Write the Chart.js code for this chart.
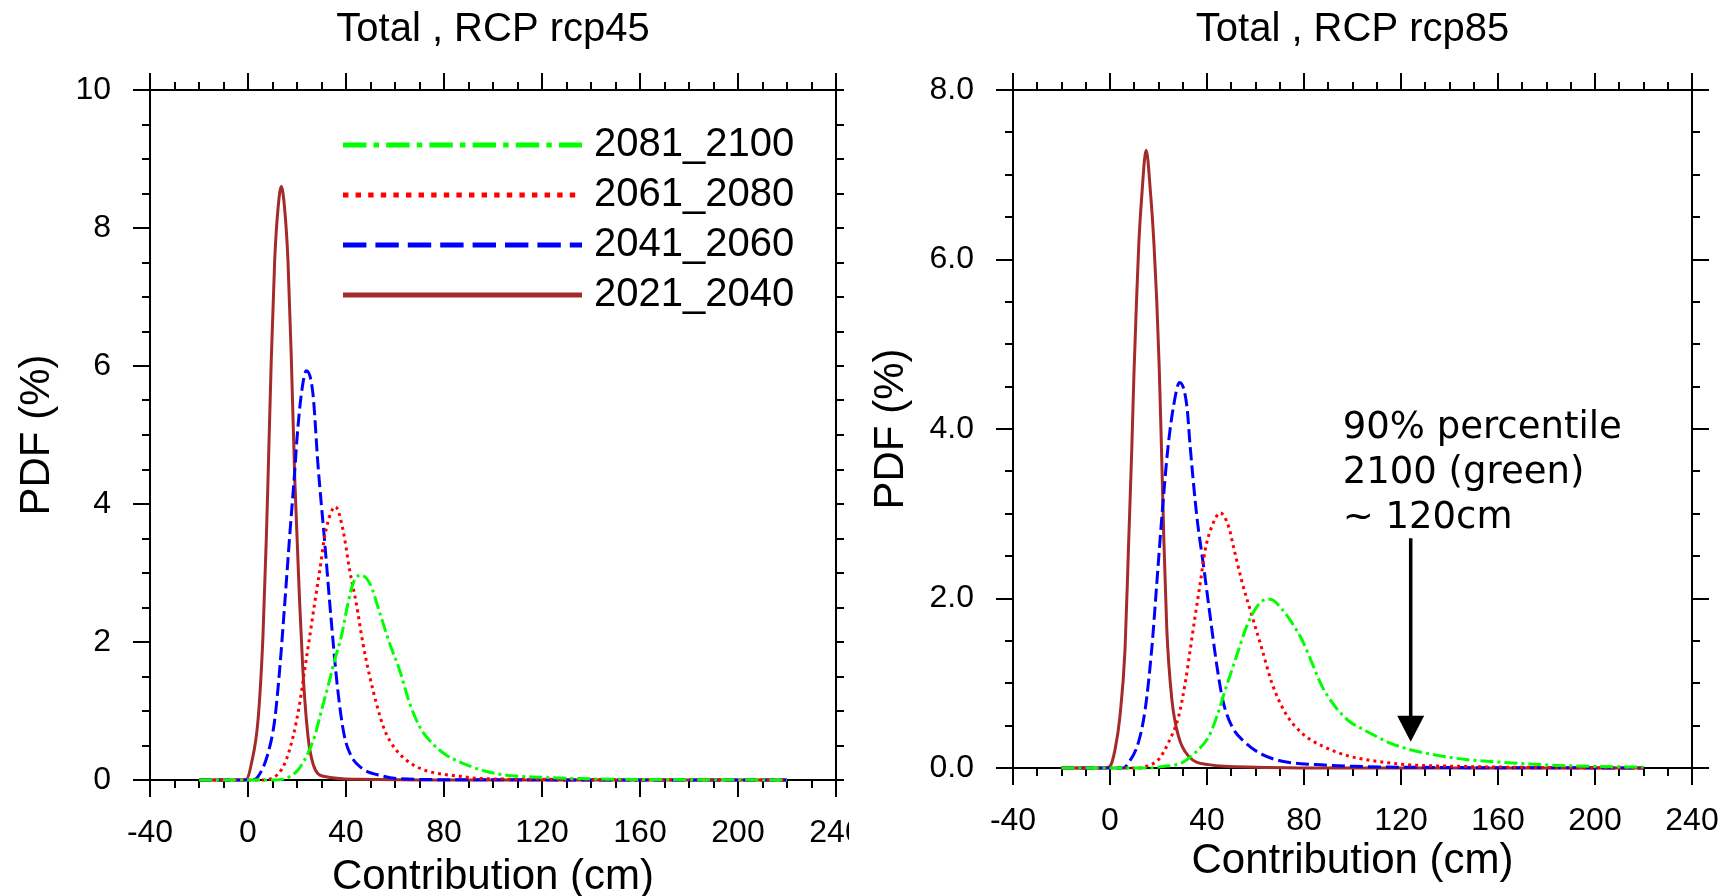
<!DOCTYPE html>
<html>
<head>
<meta charset="utf-8">
<title>Total contribution PDFs, rcp45 / rcp85</title>
<script src="https://cdn.jsdelivr.net/npm/chart.js@4.4.1/dist/chart.umd.min.js"></script>
<style>
  html, body { margin: 0; padding: 0; background: #fff; }
  body { width: 1725px; height: 896px; position: relative; overflow: hidden; }
  #wrapL { position: absolute; left: 0; top: 0; width: 849px; height: 896px; overflow: hidden; }
  #wrapR { position: absolute; left: 862px; top: 0; width: 863px; height: 896px; }
  canvas { display: block; }
</style>
</head>
<body>
<div id="wrapL"><canvas id="c45" width="862" height="896"></canvas></div>
<div id="wrapR"><canvas id="c85" width="863" height="896"></canvas></div>
<script>
/* PDF of total contribution (cm) for four 20-year periods, RCP4.5 and RCP8.5.
   Values, [contribution cm, PDF %]. */

const FONT = "'Liberation Sans', Arial, Helvetica, sans-serif";

const seriesLabels = ["2081_2100", "2061_2080", "2041_2060", "2021_2040"];
const seriesColors = ["#00ff00", "#ff0000", "#0000ff", "#a52a2a"];
const seriesDash = [[13, 4, 3, 4], [3, 4], [13, 5], []];

const xMajor = [-40, 0, 40, 80, 120, 160, 200, 240];
const y45Major = [0, 2, 4, 6, 8, 10];
const y45Labels = ["0", "2", "4", "6", "8", "10"];
const y85Major = [0, 2, 4, 6, 8];
const y85Labels = ["0.0", "2.0", "4.0", "6.0", "8.0"];

// ---- RCP 4.5 ----
const rcp45_2021_2040 = [[-20, 0], [-3, 0], [-0.6, 0.01], [1.4, 0.24], [4.1, 0.87], [6.1, 2.08], [7.5, 3.53],
  [8.2, 4.4], [9.5, 6.09], [10.9, 7.54], [12.2, 8.26], [13.6, 8.6], [15.0, 8.26], [16.3, 7.54], [17.7, 6.09],
  [19.1, 4.35], [21.1, 2.56], [22.4, 1.59], [24.5, 0.63], [26.5, 0.24], [31.3, 0.05], [45, 0.01], [80, 0], [220, 0]];
const rcp45_2041_2060 = [[-20, 0], [1.4, 0], [4.1, 0.05], [8.2, 0.39], [10.9, 0.87], [12.9, 1.59], [15.0, 2.56],
  [17.0, 3.53], [19.1, 4.49], [20.0, 4.95], [21.8, 5.6], [23.8, 5.93], [26.5, 5.6], [28.6, 4.55], [31.3, 3.45],
  [34.0, 2.3], [36.5, 1.35], [39.1, 0.68], [41.8, 0.37], [46.5, 0.17], [54.8, 0.06], [61, 0.02], [80, 0.005], [220, 0]];
const rcp45_2061_2080 = [[-20, 0], [5, 0], [9.5, 0.02], [15.0, 0.24], [18.4, 0.63], [21.1, 1.11], [23.1, 1.59],
  [25.2, 2.08], [27.2, 2.56], [29.3, 3.04], [31.3, 3.53], [33.8, 3.87], [35.7, 3.96], [38.8, 3.62], [41.5, 3.04],
  [44.2, 2.56], [46.9, 1.98], [49.7, 1.5], [52.4, 1.11], [55.8, 0.72], [60.6, 0.43], [67.4, 0.22], [74.2, 0.12],
  [85, 0.06], [96, 0.02], [120, 0.01], [220, 0]];
const rcp45_2081_2100 = [[-20, 0], [10, 0], [15, 0.02], [20.4, 0.145], [24.5, 0.39], [27.2, 0.63], [30.0, 1.01],
  [32.6, 1.35], [35.4, 1.74], [38.1, 2.08], [40.8, 2.56], [42.9, 2.85], [45.8, 2.97], [49.7, 2.85], [53.8, 2.42],
  [57.8, 1.98], [61.9, 1.59], [66.0, 1.11], [70.1, 0.77], [75.0, 0.54], [81, 0.36], [87.8, 0.24], [96.7, 0.13],
  [105.5, 0.07], [119, 0.04], [135, 0.02], [155, 0.01], [220, 0]];

// ---- RCP 8.5 ----
const rcp85_2021_2040 = [[-20, 0], [-2, 0], [0, 0.02], [2.1, 0.22], [4.1, 0.61], [6.2, 1.4], [7.6, 2.58], [9.0, 3.78],
  [9.9, 4.67], [10.9, 5.48], [11.9, 6.2], [13.1, 6.75], [14.9, 7.29], [16.8, 6.75], [18.1, 6.2], [19.3, 5.5],
  [20.3, 4.72], [21.2, 3.8], [22.2, 2.7], [23.4, 1.65], [25.5, 0.81], [28.3, 0.37], [32.4, 0.14], [40.7, 0.04],
  [60, 0.01], [100, 0], [220, 0]];
const rcp85_2041_2060 = [[-20, 0], [5.4, 0], [7.6, 0.06], [11.7, 0.3], [14.5, 0.69], [17.2, 1.4], [19.3, 2.18],
  [21.4, 2.97], [23.9, 3.78], [26.2, 4.27], [28.7, 4.55], [31.7, 4.27], [33.1, 3.78], [35.8, 2.97], [38.6, 2.38],
  [41.3, 1.79], [44.1, 1.2], [46.6, 0.79], [50.3, 0.49], [55.8, 0.3], [62.7, 0.16], [71, 0.08], [84.7, 0.04],
  [101, 0.02], [120, 0.01], [220, 0]];
const rcp85_2061_2080 = [[-20, 0], [12, 0], [15.9, 0.03], [20.0, 0.1], [24.1, 0.3], [28.3, 0.61], [31.0, 1.0],
  [33.1, 1.4], [35.1, 1.79], [37.2, 2.18], [39.3, 2.58], [42.0, 2.85], [45.5, 3.01], [48.9, 2.85], [51.0, 2.6],
  [54.4, 2.2], [58.6, 1.79], [62.7, 1.4], [66.8, 1.0], [72.3, 0.65], [79.2, 0.41], [87.5, 0.26], [98.5, 0.14],
  [110, 0.08], [122, 0.04], [143, 0.02], [163, 0.01], [220, 0]];
const rcp85_2081_2100 = [[-20, 0], [15, 0], [22.7, 0.02], [29.6, 0.06], [35.1, 0.18], [40.7, 0.37], [44.1, 0.61],
  [47.5, 0.92], [50.3, 1.16], [53.1, 1.4], [55.8, 1.63], [59.0, 1.83], [62.7, 1.97], [66.1, 1.99], [71.0, 1.87],
  [75.1, 1.71], [79.2, 1.51], [83.3, 1.24], [87.5, 0.96], [93.0, 0.72], [98.5, 0.555], [105.4, 0.44], [110, 0.37],
  [115, 0.3], [123.3, 0.22], [132.9, 0.16], [146.7, 0.1], [160.5, 0.07], [177, 0.04], [197.7, 0.02], [220, 0.01]];

// annotation on the rcp85 panel
const noteLines = ["90% percentile", "2100 (green)", "~ 120cm"];
const arrowX = 124;
const arrowFrom = 2.71;
const arrowTo = 0.31;

/* ---------- plugins ---------- */

// legend drawn inside the plot, long line samples like the original
const lineLegend = {
  id: "lineLegend",
  afterDatasetsDraw(chart, args, o) {
    if (!o.show) return;
    const ctx = chart.ctx;
    ctx.save();
    chart.data.datasets.forEach((ds, i) => {
      const y = o.top + i * o.gap;
      ctx.strokeStyle = ds.borderColor;
      ctx.lineWidth = o.lineWidth;
      ctx.setLineDash((ds.borderDash || []).map(d => d * o.dashScale));
      ctx.beginPath();
      ctx.moveTo(o.x0, y);
      ctx.lineTo(o.x1, y);
      ctx.stroke();
      ctx.setLineDash([]);
      ctx.fillStyle = "#000";
      ctx.font = o.font;
      ctx.textAlign = "left";
      ctx.textBaseline = "middle";
      ctx.fillText(ds.label, o.x1 + 12, y);
    });
    ctx.restore();
  }
};

const notePlugin = {
  id: "note",
  afterDatasetsDraw(chart) {
    const ax = chart.scales.x.getPixelForValue(arrowX);
    const yTop = chart.scales.y.getPixelForValue(arrowFrom);
    const yTip = chart.scales.y.getPixelForValue(arrowTo);
    const ctx = chart.ctx;
    ctx.save();
    ctx.fillStyle = "#000";
    ctx.strokeStyle = "#000";
    ctx.font = "37px 'DejaVu Sans', Verdana, sans-serif";
    ctx.textAlign = "left";
    ctx.textBaseline = "alphabetic";
    noteLines.forEach((t, i) => ctx.fillText(t, ax - 68, yTop - 100 + i * 45));
    ctx.lineWidth = 3.5;
    ctx.beginPath();
    ctx.moveTo(ax, yTop);
    ctx.lineTo(ax, yTip - 24);
    ctx.stroke();
    ctx.beginPath();
    ctx.moveTo(ax - 13.5, yTip - 26);
    ctx.lineTo(ax + 13.5, yTip - 26);
    ctx.lineTo(ax, yTip);
    ctx.closePath();
    ctx.fill();
    ctx.restore();
  }
};

/* ---------- axes: major + minor pairs on all four sides ---------- */

function axis(o) {
  const horiz = o.pos === "top" || o.pos === "bottom";
  const a = {
    type: "linear",
    position: o.pos,
    min: o.min,
    max: o.max,
    weight: o.weight,
    grid: { display: true, drawOnChartArea: false, drawTicks: true, tickLength: o.len, color: "#000", lineWidth: 2 },
    border: { display: true, color: "#000", width: 2 },
    ticks: Object.assign({ display: false, autoSkip: false, stepSize: o.step }, o.ticks || {}),
    afterFit: (s) => {
      if (horiz) s.height = o.size; else s.width = o.size;
      s.paddingLeft = s.paddingRight = s.paddingTop = s.paddingBottom = 0;
    }
  };
  if (o.values) a.afterBuildTicks = (s) => { s.ticks = o.values.map(v => ({ value: v })); };
  if (o.title) a.title = o.title;
  return a;
}

function makeScales(c) {
  const xMin = xMajor[0], xMax = xMajor[xMajor.length - 1];
  const yMin = c.yMajor[0], yMax = c.yMajor[c.yMajor.length - 1];
  const tickFont = { family: FONT, size: 32 };
  const titleFont = { family: FONT, size: 42, lineHeight: 1.1 };
  return {
    x: axis({
      pos: "bottom", min: xMin, max: xMax, values: xMajor, len: 17, size: c.bottomH, weight: 1,
      ticks: { display: true, font: tickFont, color: "#000", padding: 16.8, maxRotation: 0, callback: (v) => String(v) },
      title: { display: true, text: "Contribution (cm)", font: titleFont, color: "#000", padding: { top: 0, bottom: c.xTitlePad } }
    }),
    xMinor: axis({ pos: "bottom", min: xMin, max: xMax, step: 10, len: 8, size: 0, weight: 0 }),
    xTop: axis({ pos: "top", min: xMin, max: xMax, values: xMajor, len: 17, size: c.topH, weight: 1 }),
    xTopMinor: axis({ pos: "top", min: xMin, max: xMax, step: 10, len: 8, size: 0, weight: 0 }),
    y: axis({
      pos: "left", min: yMin, max: yMax, values: c.yMajor, len: 17, size: c.leftW, weight: 1,
      ticks: { display: true, font: tickFont, color: "#000", padding: 22, callback: (v, i) => c.yLabels[i] },
      title: { display: true, text: "PDF (%)", font: titleFont, color: "#000", padding: { top: c.yTitlePad, bottom: 0 } }
    }),
    yMinor: axis({ pos: "left", min: yMin, max: yMax, step: 0.5, len: 8, size: 0, weight: 0 }),
    yRight: axis({ pos: "right", min: yMin, max: yMax, values: c.yMajor, len: c.rightMajorLen, size: c.rightW, weight: 1 }),
    yRightMinor: axis({ pos: "right", min: yMin, max: yMax, step: 0.5, len: 8, size: 0, weight: 0 })
  };
}

function makeChart(id, c) {
  const datasets = c.series.map((data, i) => ({
    label: seriesLabels[i],
    data,
    borderColor: seriesColors[i],
    backgroundColor: seriesColors[i],
    borderDash: seriesDash[i],
    borderWidth: 3,
    borderCapStyle: "butt",
    borderJoinStyle: "round",
    pointRadius: 0,
    fill: false,
    cubicInterpolationMode: "monotone",
    clip: 10,
    xAxisID: "x",
    yAxisID: "y"
  }));
  return new Chart(document.getElementById(id), {
    type: "line",
    data: { datasets },
    plugins: c.plugins,
    options: {
      responsive: false,
      animation: false,
      events: [],
      layout: { padding: 0 },
      scales: makeScales(c),
      plugins: {
        legend: { display: false },
        tooltip: { enabled: false },
        title: {
          display: true, text: c.title, color: "#000", fullSize: false,
          font: { family: FONT, size: 40, lineHeight: 1.2, weight: "normal" },
          padding: { top: 5.9, bottom: 0 }
        },
        lineLegend: {
          show: c.legend, top: 145, gap: 50, x0: 343, x1: 582, lineWidth: 5, dashScale: 1.8,
          font: "40px " + FONT
        }
      }
    }
  });
}

makeChart("c45", {
  title: "Total , RCP rcp45",
  series: [rcp45_2081_2100, rcp45_2061_2080, rcp45_2041_2060, rcp45_2021_2040],
  yMajor: y45Major, yLabels: y45Labels,
  topH: 36.1, bottomH: 116, leftW: 150, rightW: 26, rightMajorLen: 8,
  xTitlePad: -5, yTitlePad: 14.5,
  legend: true,
  plugins: [lineLegend]
});

makeChart("c85", {
  title: "Total , RCP rcp85",
  series: [rcp85_2081_2100, rcp85_2061_2080, rcp85_2041_2060, rcp85_2021_2040],
  yMajor: y85Major, yLabels: y85Labels,
  topH: 36.1, bottomH: 128, leftW: 151, rightW: 33, rightMajorLen: 17,
  xTitlePad: 11.5, yTitlePad: 6.5,
  legend: false,
  plugins: [notePlugin]
});
</script>
</body>
</html>
